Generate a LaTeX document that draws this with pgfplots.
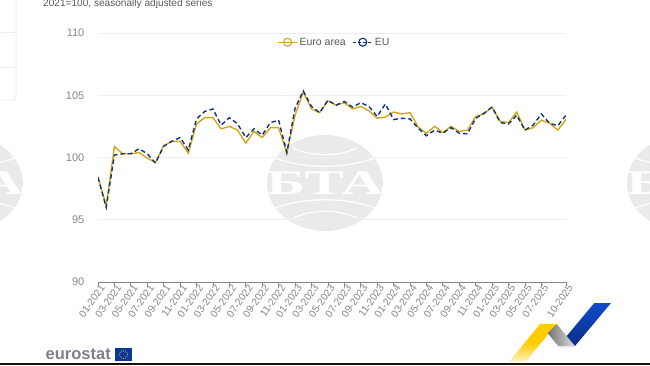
\documentclass[border=0pt]{standalone}
\usepackage{fontspec}
\setmainfont{Liberation Sans}
\newfontfamily\serifb{Liberation Serif}[BoldFont={Liberation Serif Bold}]
\usepackage{pgfplots}
\usepackage{pgfplotstable}
\pgfplotsset{compat=1.18}
\definecolor{eacol}{HTML}{D4A814}
\definecolor{eucol}{HTML}{12307F}
\definecolor{gridc}{HTML}{ECEEF5}
\definecolor{tickc}{HTML}{85858D}
\definecolor{wm}{HTML}{EAEAEA}
\definecolor{ylw}{HTML}{FFCC00}
\definecolor{ylwl}{HTML}{FFF3C4}
\definecolor{blu}{HTML}{0F4CCB}
\definecolor{blud}{HTML}{0A2E85}
\definecolor{estat}{HTML}{7C808C}
\pgfplotstableread{
i ea eu
0 98.45 98.4
1 96.1 96.0
2 100.88 100.2
3 100.3 100.3
4 100.3 100.3
5 100.4 100.7
6 99.95 100.3
7 99.6 99.55
8 100.95 100.9
9 101.3 101.3
10 101.3 101.6
11 100.35 100.6
12 102.7 103.1
13 103.2 103.7
14 103.2 103.9
15 102.3 102.6
16 102.5 103.2
17 102.2 102.7
18 101.15 101.6
19 102.1 102.3
20 101.6 101.8
21 102.4 102.8
22 102.4 103.0
23 100.35 100.4
24 103.4 103.95
25 105.25 105.35
26 103.9 104.1
27 103.6 103.6
28 104.55 104.6
29 104.2 104.2
30 104.4 104.5
31 103.9 104.05
32 104.1 104.4
33 103.75 104.1
34 103.15 103.3
35 103.25 104.3
36 103.65 103.05
37 103.5 103.15
38 103.6 103.1
39 102.45 102.35
40 101.95 101.75
41 102.5 102.2
42 102.0 101.95
43 102.5 102.4
44 102.1 101.95
45 102.2 101.9
46 103.3 103.15
47 103.5 103.55
48 104.05 104.05
49 102.9 102.8
50 102.8 102.7
51 103.65 103.4
52 102.2 102.2
53 102.4 102.6
54 103.0 103.5
55 102.75 102.75
56 102.2 102.55
57 103.05 103.4
}\datatab
\newcommand{\wmark}[2]{%
 \begin{scope}[shift={(#1,#2)}]
  \begin{scope}
   \clip (0,0) ellipse [x radius=58, y radius=48];
   \fill[wm] (0,0) ellipse [x radius=58, y radius=48];
   \draw[white,line width=1.3] (-32,35) .. controls (-12,26) and (12,26) .. (32,35);
   \draw[white,line width=1.3] (-50,25) .. controls (-20,14) and (20,14) .. (50,25);
   \draw[white,line width=1.3] (-50,-25) .. controls (-20,-14) and (20,-14) .. (50,-25);
   \draw[white,line width=1.3] (-32,-35) .. controls (-12,-26) and (12,-26) .. (32,-35);
  \end{scope}
  \node[white,inner sep=0,xscale=1.97,yscale=1.15,font=\serifb\bfseries\fontsize{30}{30}\selectfont] at (0,0) {БТА};
 \end{scope}}
\begin{document}
\begin{tikzpicture}[x=1pt,y=1pt]
\path[use as bounding box] (0,0) rectangle (650,365);
\begin{scope}
\clip (0,0) rectangle (650,365);
\wmark{-35}{182}
\wmark{325}{182}
\wmark{685}{182}
% sidebar
\draw[gridc,line width=1,rounded corners=4] (-10,265) -- (16,265) -- (16,380);
\draw[gridc,line width=0.8] (0,333) -- (16,333);
\draw[gridc,line width=0.8] (0,298) -- (16,298);
% subtitle
\node[anchor=base west,inner sep=0,text=black!65,font=\fontsize{10.1}{10.1}\selectfont] at (43,358.7) {2021=100, seasonally adjusted series};
% ribbons
\shade[top color=ylw,bottom color=ylwl,middle color=ylw] (540,41) -- (556.7,41) -- (525.5,3.3) -- (509.3,3.3) -- cycle;
\shade[left color=black!55,right color=black!12] (556.7,41) -- (575,19) -- (558.3,19) -- (547.7,31.7) -- cycle;
\fill[blue!10!white] (558.3,19) -- (575,19) -- (574,17.5) -- (559.5,17.5) -- cycle;
\shade[top color=blu,bottom color=blud] (594.3,62) -- (611,62) -- (575,19) -- (566.7,29) -- cycle;
% bottom edge
\fill[black!85!brown] (0,0) rectangle (650,1.6);
% logo
\node[anchor=base west,inner sep=0,text=estat,font=\bfseries\fontsize{16.5}{16.5}\selectfont] at (45.5,5.5) {eurostat};
\fill[blud!70!blu] (115,4) rectangle (132,17);
\foreach \a in {0,30,...,330} \fill[ylw] ({123.5+3.9*cos(\a)},{10.5+3.9*sin(\a)}) circle (0.45);
\end{scope}
\begin{axis}[
 at={(98pt,83pt)},anchor=south west,
 scale only axis,width=468pt,height=249pt,
 xmin=0,xmax=57,ymin=90,ymax=110,
 axis y line*=left,axis x line*=bottom,
 y axis line style={draw=none},
 x axis line style={draw=tickc,line width=0.8pt,-},
 ytick={90,95,100,105,110},
 ymajorgrids,
 grid style={gridc,line width=0.9pt},
 xtick={0,2,...,54,57},
 xticklabels={01-2021,03-2021,05-2021,07-2021,09-2021,11-2021,01-2022,03-2022,05-2022,07-2022,09-2022,11-2022,01-2023,03-2023,05-2023,07-2023,09-2023,11-2023,01-2024,03-2024,05-2024,07-2024,09-2024,11-2024,01-2025,03-2025,05-2025,07-2025,10-2025},
 x tick style={draw=tickc,line width=0.7pt},
 y tick style={draw=none},
 major tick length=3.5pt,
 tick align=outside,
 xticklabel style={rotate=55,anchor=east,xshift=3.5pt,yshift=-4pt,text=tickc,font=\fontsize{10.2}{10.5}\selectfont,inner sep=1pt},
 yticklabel style={text=tickc,font=\fontsize{11}{11}\selectfont,xshift=-10pt,inner sep=0pt},
 /pgf/number format/assume math mode=true,
 legend columns=2,
 legend cell align=left,
 legend style={at={(0.5053,0.963)},anchor=center,draw=none,fill=white,fill opacity=0,text opacity=1,
   font=\fontsize{10.5}{11}\selectfont,text=black!65,inner sep=0pt,
   /tikz/every even column/.append style={column sep=5pt}},
 legend image code/.code={\draw[mark repeat=2,mark phase=2,#1] plot coordinates {(0pt,0pt) (9.5pt,0pt) (19pt,0pt)};},
]
\addplot[eacol,line width=1.4pt,no marks,forget plot] table[x=i,y=ea] {\datatab};
\addplot[eucol,line width=1.4pt,dash pattern=on 4.5pt off 3pt,no marks,forget plot] table[x=i,y=eu] {\datatab};
\addlegendimage{eacol,line width=1.1pt,mark=o,mark size=4pt,mark options={solid,fill=white,line width=1.1pt}}
\addlegendentry{Euro area}
\addlegendimage{eucol,line width=1.1pt,dash pattern=on 3pt off 2pt,mark=o,mark size=4pt,mark options={solid,fill=white,line width=1.1pt}}
\addlegendentry{EU}
\end{axis}
\end{tikzpicture}
\end{document}
